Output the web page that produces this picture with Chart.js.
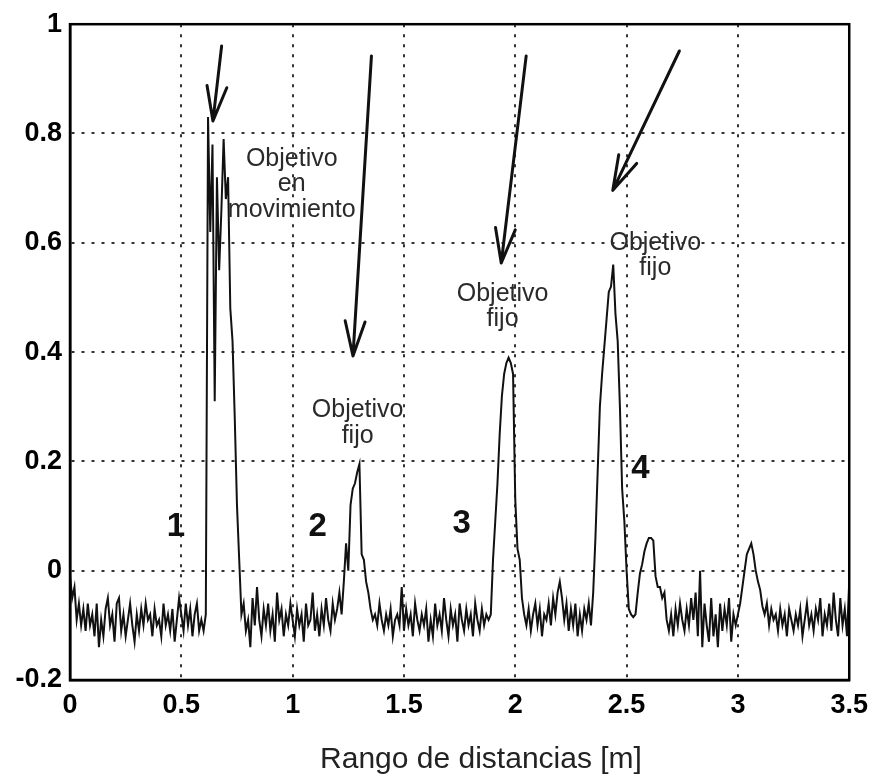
<!DOCTYPE html>
<html>
<head>
<meta charset="utf-8">
<script src="https://cdn.jsdelivr.net/npm/chart.js@4.4.1/dist/chart.umd.min.js"></script>
<style>
html, body { margin:0; padding:0; background:#fff; }
#wrap { position:relative; width:877px; height:778px; }
#xtitle { position:absolute; left:281px; top:743px; width:400px; text-align:center; font:30px "Liberation Sans", Arial, sans-serif; line-height:30px; color:#222; }
</style>
</head>
<body>
<div id="wrap"><canvas id="c" width="877" height="778"></canvas><div id="xtitle">Rango de distancias [m]</div></div>
<script>
// range samples, 0 .. 3.5 m every 0.01 m
const xStart = 0, xStep = 0.01

const amplitude = [
	-0.01, -0.05, -0.03, -0.09, -0.06, -0.10, -0.07, -0.11, -0.06, -0.10,
	-0.08, -0.12, -0.06, -0.14, -0.09, -0.12, -0.07, -0.05, -0.10, -0.08,
	-0.13, -0.06, -0.05, -0.11, -0.08, -0.12, -0.09, -0.06, -0.10, -0.13,
	-0.08, -0.11, -0.07, -0.10, -0.06, -0.09, -0.08, -0.12, -0.07, -0.10,
	-0.09, -0.12, -0.06, -0.10, -0.08, -0.11, -0.07, -0.13, -0.09, -0.05,
	-0.08, -0.11, -0.06, -0.10, -0.07, -0.12, -0.08, -0.06, -0.11, -0.09,
	-0.11, -0.08, 0.83, 0.62, 0.78, 0.31, 0.72, 0.55, 0.66, 0.79,
	0.68, 0.72, 0.48, 0.42, 0.28, 0.12, 0.02, -0.08, -0.06, -0.11,
	-0.09, -0.14, -0.05, -0.10, -0.03, -0.09, -0.12, -0.07, -0.10, -0.06,
	-0.11, -0.08, -0.13, -0.04, -0.09, -0.07, -0.12, -0.08, -0.10, -0.06,
	-0.09, -0.12, -0.07, -0.10, -0.08, -0.13, -0.06, -0.10, -0.09, -0.04,
	-0.11, -0.08, -0.12, -0.07, -0.10, -0.05, -0.09, -0.11, -0.06, -0.09,
	-0.07, -0.04, -0.08, -0.02, 0.05, 0.00, 0.12, 0.15, 0.16, 0.18,
	0.195, 0.03, 0.02, -0.02, -0.04, -0.07, -0.09, -0.08, -0.10, -0.06,
	-0.09, -0.11, -0.08, -0.10, -0.07, -0.12, -0.09, -0.08, -0.10, -0.03,
	-0.11, -0.07, -0.10, -0.08, -0.12, -0.06, -0.09, -0.11, -0.08, -0.10,
	-0.07, -0.13, -0.09, -0.12, -0.06, -0.10, -0.08, -0.11, -0.05, -0.09,
	-0.12, -0.07, -0.10, -0.08, -0.13, -0.06, -0.09, -0.11, -0.07, -0.10,
	-0.08, -0.12, -0.06, -0.09, -0.11, -0.07, -0.10, -0.08, -0.09, -0.08,
	0.02, 0.09, 0.16, 0.25, 0.32, 0.36, 0.38, 0.39, 0.38, 0.36,
	0.13, 0.04, 0.02, -0.05, -0.08, -0.10, -0.07, -0.11, -0.08, -0.06,
	-0.10, -0.07, -0.12, -0.08, -0.09, -0.06, -0.10, -0.05, -0.08, -0.04,
	-0.02, -0.05, -0.09, -0.06, -0.11, -0.07, -0.10, -0.06, -0.12, -0.08,
	-0.11, -0.07, -0.09, -0.06, -0.10, -0.04, 0.06, 0.18, 0.30, 0.36,
	0.41, 0.46, 0.51, 0.52, 0.56, 0.47, 0.42, 0.30, 0.15, 0.09,
	0.00, -0.07, -0.08, -0.085, -0.08, -0.04, -0.005, 0.012, 0.035, 0.05,
	0.06, 0.06, 0.055, -0.01, -0.03, -0.03, -0.05, -0.04, -0.09, -0.11,
	-0.08, -0.12, -0.07, -0.10, -0.06, -0.09, -0.11, -0.07, -0.10, -0.05,
	-0.09, -0.04, -0.12, 0.00, -0.14, -0.06, -0.10, -0.13, -0.05, -0.12,
	-0.08, -0.14, -0.06, -0.11, -0.07, -0.10, -0.05, -0.13, -0.08, -0.10,
	-0.08, -0.06, -0.03, 0.00, 0.03, 0.04, 0.05, 0.03, 0.00, -0.02,
	-0.035, -0.065, -0.08, -0.06, -0.10, -0.07, -0.09, -0.08, -0.11, -0.07,
	-0.10, -0.08, -0.12, -0.07, -0.09, -0.11, -0.08, -0.10, -0.07, -0.12,
	-0.09, -0.06, -0.10, -0.08, -0.11, -0.07, -0.09, -0.05, -0.12, -0.08,
	-0.10, -0.06, -0.11, -0.04, -0.09, -0.12, -0.05, -0.10, -0.07, -0.12,
	-0.02
]

const xTicks = [0, 0.5, 1, 1.5, 2, 2.5, 3, 3.5]
const yTicks = [-0.2, 0, 0.2, 0.4, 0.6, 0.8, 1]

// hand written notes on the plot, in data units
const peakNumbers = ['1', '2', '3', '4']
const peakNumberAt = [[0.476, 0.08], [1.113, 0.08], [1.759, 0.086], [2.562, 0.186]]
const noteLines = [['Objetivo', 'en', 'movimiento'], ['Objetivo', 'fijo'], ['Objetivo', 'fijo'], ['Objetivo', 'fijo']]
const noteAt = [[0.996, 0.741], [1.292, 0.281], [1.943, 0.494], [2.629, 0.587]]
const arrowFrom = [[0.681, 0.960], [1.354, 0.942], [2.049, 0.942], [2.737, 0.951]]
const arrowTo = [[0.642, 0.823], [1.271, 0.393], [1.937, 0.563], [2.438, 0.696]]

const FONT = '"Liberation Sans", Arial, sans-serif'

const notes = {
	id: 'notes',
	afterDatasetsDraw(ch) {
		const c = ch.ctx, x = ch.scales.x, y = ch.scales.y
		c.save()
		c.textAlign = 'center'
		c.fillStyle = '#111'
		c.textBaseline = 'middle'
		c.font = 'bold 33px ' + FONT
		peakNumbers.forEach((t, i) => c.fillText(t, x.getPixelForValue(peakNumberAt[i][0]), y.getPixelForValue(peakNumberAt[i][1])))

		c.textBaseline = 'alphabetic'
		c.fillStyle = '#2a2a2a'
		c.font = '25px ' + FONT
		noteLines.forEach((l, i) => {
			const px = x.getPixelForValue(noteAt[i][0]), py = y.getPixelForValue(noteAt[i][1])
			l.forEach((t, j) => c.fillText(t, px, py + j * 25.5))
		})

		c.strokeStyle = '#111'
		c.lineWidth = 3
		c.lineCap = 'round'
		arrowFrom.forEach((f, i) => {
			const x0 = x.getPixelForValue(f[0]), y0 = y.getPixelForValue(f[1])
			const x1 = x.getPixelForValue(arrowTo[i][0]), y1 = y.getPixelForValue(arrowTo[i][1])
			const a = Math.atan2(y1 - y0, x1 - x0)
			c.beginPath()
			c.moveTo(x0, y0)
			c.lineTo(x1, y1)
			for (const s of [-1, 1]) {
				c.moveTo(x1, y1)
				c.lineTo(x1 - 36 * Math.cos(a + s * 0.28), y1 - 36 * Math.sin(a + s * 0.28))
			}
			c.stroke()
		})

		// box round the plot
		const r = ch.chartArea
		c.strokeStyle = '#000'
		c.lineWidth = 2.5
		c.strokeRect(r.left, r.top, r.right - r.left, r.bottom - r.top)
		c.restore()
	}
}

const tickFont = {family: FONT, size: 27, weight: 'bold'}
const fmt = v => String(Math.round(v * 10) / 10)

new Chart(document.getElementById('c'), {
	type: 'line',
	data: {
		datasets: [{
			data: amplitude.map((v, i) => ({x: xStart + i * xStep, y: v})),
			borderColor: '#111',
			borderWidth: 2,
			pointRadius: 0,
			tension: 0,
			fill: false,
		}]
	},
	options: {
		responsive: false,
		animation: false,
		devicePixelRatio: 1,
		layout: { padding: {left: 0, right: 27, top: 21, bottom: 0} },
		plugins: {
			legend: { display: false },
			tooltip: { enabled: false },
		},
		scales: {
			x: {
				type: 'linear',
				min: 0,
				max: 3.5,
				afterBuildTicks: s => { s.ticks = xTicks.map(v => ({value: v})) },
				afterFit: s => { s.height = 98 },
				grid: { color: '#333', lineWidth: 2, drawTicks: false },
				border: { color: '#000', width: 2.5, dash: [3, 7] },
				ticks: { padding: 9, color: '#000', font: tickFont, maxRotation: 0, autoSkip: false, callback: fmt },
			},
			y: {
				type: 'linear',
				min: -0.2,
				max: 1,
				afterBuildTicks: s => { s.ticks = yTicks.map(v => ({value: v})) },
				afterFit: s => { s.width = 70 },
				grid: { color: '#333', lineWidth: 2, drawTicks: false },
				border: { color: '#000', width: 2.5, dash: [3, 7] },
				ticks: { padding: 8, color: '#000', font: tickFont, autoSkip: false, callback: fmt },
			}
		}
	},
	plugins: [notes]
})
</script>
</body>
</html>
